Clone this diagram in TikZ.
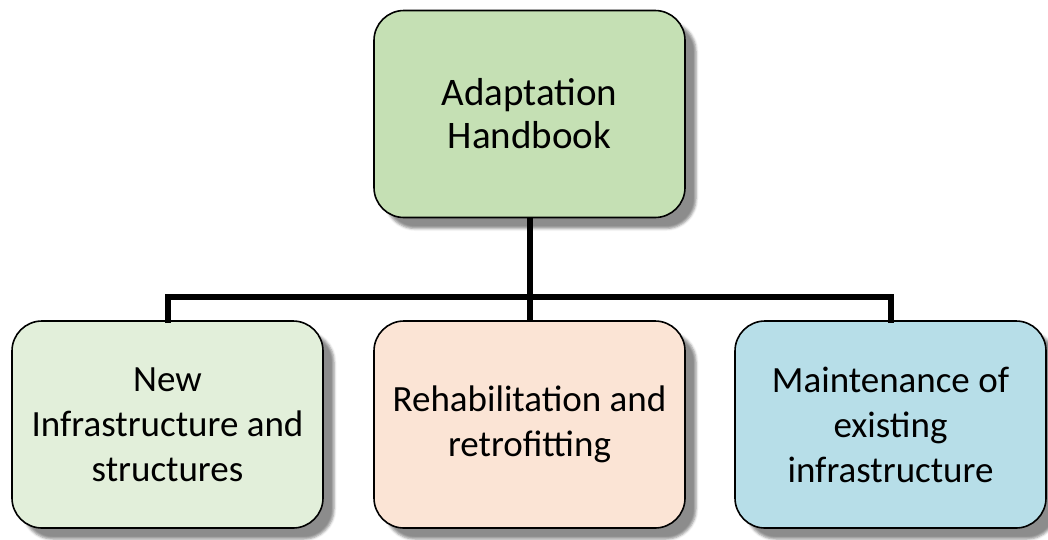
\documentclass[tikz,border=0pt]{standalone}
\usepackage{fontspec}
\setmainfont{Carlito}
\usetikzlibrary{shadows.blur}
\definecolor{topfill}{RGB}{197,224,180}
\definecolor{newfill}{RGB}{226,239,218}
\definecolor{rehabfill}{RGB}{251,228,213}
\definecolor{maintfill}{RGB}{183,222,232}
\begin{document}
\begin{tikzpicture}[x=1pt,y=-1pt,
  box/.style={draw=black, line width=1.6pt, rounded corners=30pt,
    minimum width=311pt, minimum height=207pt, inner sep=0pt,
    align=center, font=\fontsize{37}{45}\selectfont,
    blur shadow={shadow xshift=11pt, shadow yshift=-11pt,
      shadow blur radius=2.5pt, shadow opacity=45}},
  headbox/.style={box, font=\fontsize{39}{43}\selectfont},
  link/.style={line width=6pt, black}]
\useasboundingbox (0,0) rectangle (1048,539);
% hierarchy boxes
\node[headbox, fill=topfill] (top)   at (529.5,114)   {Adaptation\\Handbook};
\node[box, fill=newfill]     (new)   at (167.5,424.5) {New\\Infrastructure and\\structures};
\node[box, fill=rehabfill]   (rehab) at (529.5,424.5) {Rehabilitation and\\retrofitting};
\node[box, fill=maintfill]   (maint) at (890.5,424.5) {Maintenance of\\existing\\infrastructure};
% connectors
\coordinate (bar) at (529.5,297);
\draw[link] (top.south) -- (rehab.north);
\draw[link, line cap=rect] (new.north) |- (bar) -| (maint.north);
\end{tikzpicture}
\end{document}
